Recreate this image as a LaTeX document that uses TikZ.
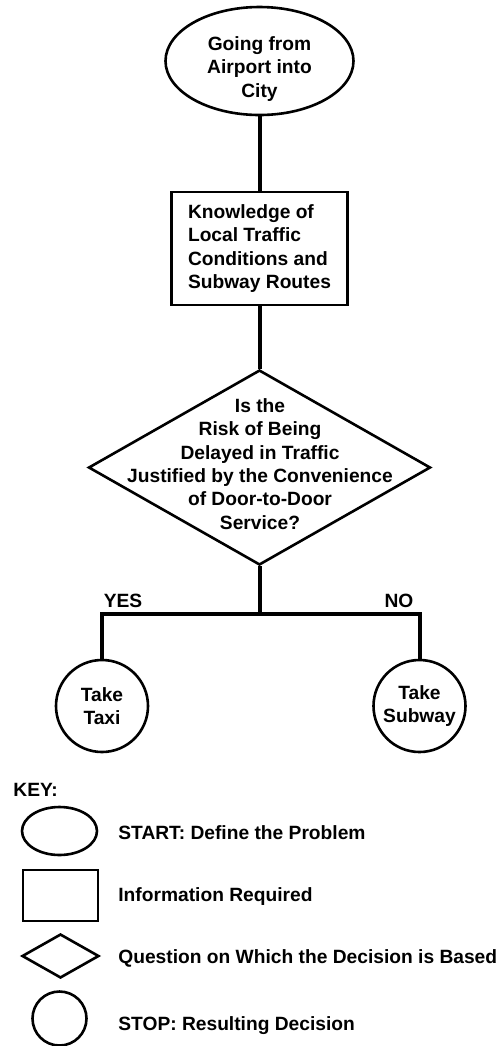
\documentclass[tikz,border=0pt]{standalone}
\usepackage{fontspec}
\setmainfont{Liberation Sans}
\usetikzlibrary{shapes.geometric}
\begin{document}
\begin{tikzpicture}[x=0.5pt,y=-0.5pt,
  shp/.style={draw, line width=1.3pt, inner sep=0pt},
  conn/.style={line width=2pt},
  txt/.style={font=\bfseries\fontsize{9.6pt}{11.7pt}\selectfont, align=center, inner sep=0pt},
  keytxt/.style={font=\bfseries\fontsize{9.6pt}{11.7pt}\selectfont, inner sep=0pt, anchor=base west}]
\useasboundingbox (0,0) rectangle (495,1046);
% main flow
\node[shp, ellipse, minimum width=94pt, minimum height=54pt] (start) at (259.5,61) {};
\node[txt] (starttext) at (259.5,69) {Going from\\Airport into\\City};
\node[shp, rectangle, minimum width=88pt, minimum height=56.5pt, txt, align=left] (info) at (259.5,248.5)
  {Knowledge of\\Local Traffic\\Conditions and\\Subway Routes};
\node[shp, diamond, minimum width=171pt, minimum height=97.5pt] (q) at (259.5,467.5) {};
\node[txt] (qtext) at (260,464) {Is the\\Risk of Being\\Delayed in Traffic\\Justified by the Convenience\\of Door-to-Door\\Service?};
\coordinate (split) at (259.5,614);
\node[shp, circle, minimum size=46pt, txt] (taxi) at (102,706) {Take\\Taxi};
\node[shp, circle, minimum size=46pt, txt] (subway) at (419.5,706) {Take\\Subway};
\node[txt] (yes) at (123,601) {YES};
\node[txt] (no) at (399,601) {NO};
\draw[conn] (start.south) -- (info.north);
\draw[conn] (info.south) -- (q.north);
\draw[conn] (q.south) -- (split);
\draw[conn] (taxi.north) |- (split) -| (subway.north);
% key
\node[txt, anchor=west] (keylbl) at (13,790) {KEY:};
\node[shp, ellipse, minimum width=37.5pt, minimum height=24pt] (kell) at (59.5,831) {};
\node[shp, rectangle, minimum width=37.5pt, minimum height=25.5pt] (krect) at (60.5,895.5) {};
\node[shp, diamond, minimum width=38.5pt, minimum height=22pt] (kdia) at (60.5,956) {};
\node[shp, circle, minimum size=27pt] (kcirc) at (59.5,1018.5) {};
\node[keytxt] (kt1) at (118,839) {START: Define the Problem};
\node[keytxt] (kt2) at (118,901) {Information Required};
\node[keytxt] (kt3) at (118,963) {Question on Which the Decision is Based};
\node[keytxt] (kt4) at (118,1030) {STOP: Resulting Decision};
\end{tikzpicture}
\end{document}
